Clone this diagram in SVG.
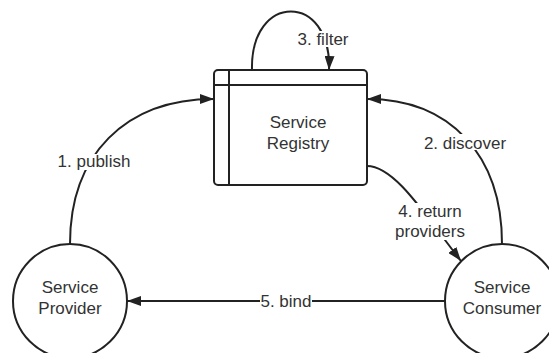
<svg xmlns="http://www.w3.org/2000/svg" width="549" height="353" viewBox="0 0 549 353">
<defs>
<style>
.shape{fill:#fff;stroke:#222;stroke-width:2}
.line{fill:none;stroke:#222;stroke-width:2}
.conn{fill:none;stroke:#222;stroke-width:2;marker-end:url(#arrow)}
.t{font-family:"Liberation Sans",Arial,sans-serif;font-size:17px;fill:#333;text-anchor:middle}
.bg{fill:#fff}
</style>
<marker id="arrow" markerUnits="userSpaceOnUse" markerWidth="14" markerHeight="10" refX="14" refY="5" orient="auto">
<path d="M0,0 L14,5 L0,10 z" fill="#222"/>
</marker>
</defs>
<rect width="549" height="353" fill="#fff"/>
<g id="connectors">
<path class="conn" d="M70,244 C70,155 125,99 214,99"/>
<path class="conn" d="M502,244 C502,155 450,99 367,99"/>
<path class="conn" d="M252,70 C250,-8 332,-8 329,70"/>
<path class="conn" d="M367,166 C395,166 425,215 461,261"/>
<path class="conn" d="M445,301 L127,301"/>
<g id="labels">
<rect class="bg" x="57" y="154" width="74" height="16"/>
<text class="t" x="94" y="167">1. publish</text>
<rect class="bg" x="423" y="134" width="84" height="16"/>
<text class="t" x="465" y="149">2. discover</text>
<rect class="bg" x="297" y="31" width="52" height="16"/>
<text class="t" x="323" y="45">3. filter</text>
<rect class="bg" x="394" y="203" width="72" height="37"/>
<text class="t" x="430" y="217">4. return</text>
<text class="t" x="430" y="237">providers</text>
<rect class="bg" x="260" y="293" width="52" height="16"/>
<text class="t" x="286" y="307">5. bind</text>
</g>
</g>
<g id="registry">
<rect class="shape" x="214" y="70" width="153" height="115" rx="4"/>
<line class="line" x1="229" y1="70" x2="229" y2="185"/>
<line class="line" x1="214" y1="85" x2="367" y2="85"/>
<text class="t" x="298" y="128">Service</text>
<text class="t" x="298" y="149">Registry</text>
</g>
<g id="provider">
<circle class="shape" cx="70" cy="301" r="57"/>
<text class="t" x="70" y="293">Service</text>
<text class="t" x="70" y="314">Provider</text>
</g>
<g id="consumer">
<circle class="shape" cx="502" cy="301" r="57"/>
<text class="t" x="502" y="293">Service</text>
<text class="t" x="502" y="314">Consumer</text>
</g>
</svg>
